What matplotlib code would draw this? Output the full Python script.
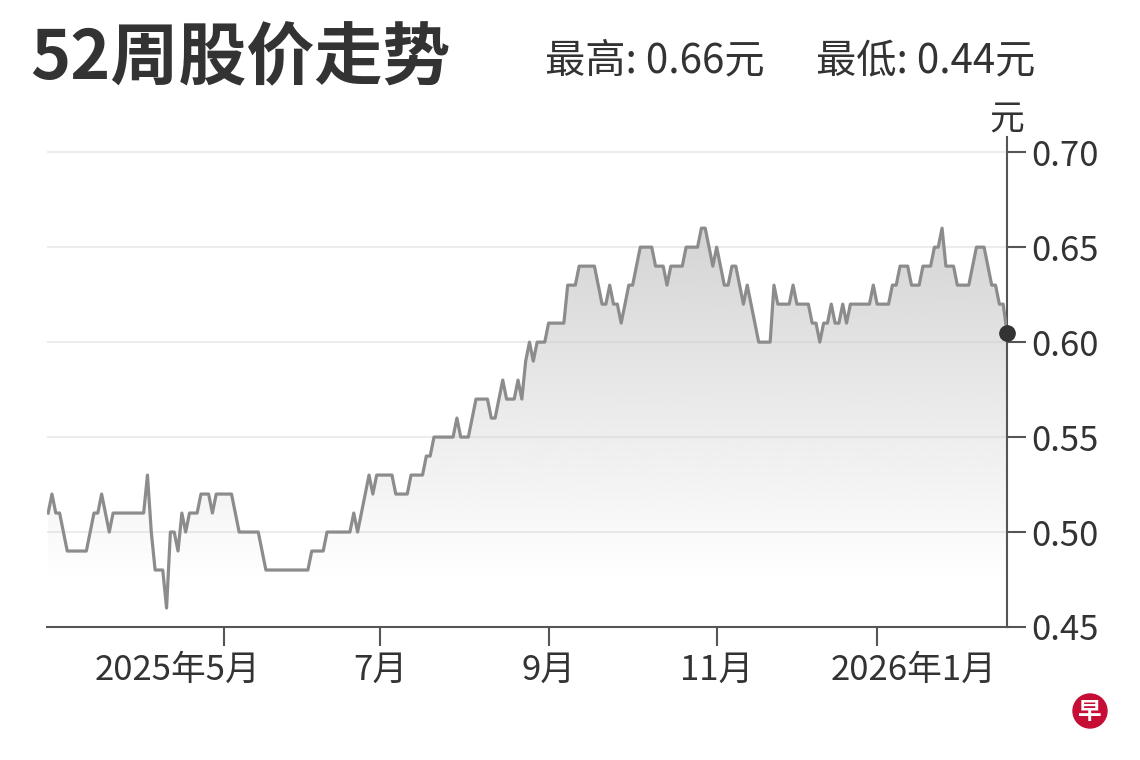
import numpy as np
import pandas as pd
import matplotlib
matplotlib.use("Agg")
import matplotlib.pyplot as plt
from matplotlib.patches import Ellipse

plt.rcParams['font.family'] = ['Noto Sans CJK SC', 'DejaVu Sans']

# 新交所交易日 (去掉公共假期)
holidays = ["2025-03-31", "2025-04-18", "2025-05-01", "2025-05-12", "2025-10-20",
            "2025-12-25", "2026-01-01", "2026-02-17", "2026-02-18"]
dates = pd.bdate_range("2025-02-24", "2026-02-23")
dates = dates[~dates.isin(pd.to_datetime(holidays))]

# 每日收盘价 (元)
close = [
    0.51, 0.52, 0.51, 0.51, 0.50, 0.49, 0.49, 0.49, 0.49,
    0.49, 0.49, 0.50, 0.51, 0.51, 0.52, 0.51, 0.50, 0.51, 0.51,
    0.51, 0.51, 0.51, 0.51, 0.51, 0.51, 0.51, 0.53, 0.50, 0.48,
    0.48, 0.48, 0.46, 0.50, 0.50, 0.49, 0.51, 0.50, 0.51, 0.51,
    0.51, 0.52, 0.52, 0.52, 0.51, 0.52, 0.52, 0.52, 0.52,
    0.52, 0.51, 0.50, 0.50, 0.50, 0.50, 0.50, 0.50, 0.49, 0.48,
    0.48, 0.48, 0.48, 0.48, 0.48, 0.48, 0.48, 0.48, 0.48, 0.48,
    0.48, 0.49, 0.49, 0.49, 0.49, 0.50, 0.50, 0.50, 0.50, 0.50,
    0.50, 0.50, 0.51, 0.50, 0.51, 0.52, 0.53, 0.52, 0.53,
    0.53, 0.53, 0.53, 0.53, 0.52, 0.52, 0.52, 0.52, 0.53, 0.53,
    0.53, 0.53, 0.54, 0.54, 0.55, 0.55, 0.55, 0.55, 0.55, 0.55,
    0.56, 0.55, 0.55, 0.55, 0.56, 0.57, 0.57, 0.57, 0.57, 0.56,
    0.56, 0.57, 0.58, 0.57, 0.57, 0.57, 0.58, 0.57, 0.59,
    0.60, 0.59, 0.60, 0.60, 0.60, 0.61, 0.61, 0.61, 0.61, 0.61,
    0.63, 0.63, 0.63, 0.64, 0.64, 0.64, 0.64, 0.64, 0.63, 0.62,
    0.62, 0.63, 0.62, 0.62, 0.61, 0.62, 0.63, 0.63, 0.64, 0.65,
    0.65, 0.65, 0.65, 0.64, 0.64, 0.64, 0.63, 0.64, 0.64,
    0.64, 0.64, 0.65, 0.65, 0.65, 0.65, 0.66, 0.66, 0.65, 0.64,
    0.65, 0.64, 0.63, 0.63, 0.64, 0.64, 0.63, 0.62, 0.63, 0.62,
    0.61, 0.60, 0.60, 0.60, 0.60, 0.63, 0.62, 0.62, 0.62, 0.62,
    0.63, 0.62, 0.62, 0.62, 0.62, 0.61, 0.61, 0.60, 0.61,
    0.61, 0.62, 0.61, 0.61, 0.62, 0.61, 0.62, 0.62, 0.62, 0.62,
    0.62, 0.62, 0.63, 0.62, 0.62, 0.62, 0.62, 0.63, 0.63, 0.64,
    0.64, 0.64, 0.63, 0.63, 0.63, 0.64, 0.64, 0.64, 0.65, 0.65,
    0.66, 0.64, 0.64, 0.64, 0.63, 0.63, 0.63, 0.63, 0.64,
    0.65, 0.65, 0.65, 0.64, 0.63, 0.63, 0.62, 0.62, 0.605,
]

yticks = [0.45, 0.50, 0.55, 0.60, 0.65, 0.70]
month_starts = pd.to_datetime(["2025-05-01", "2025-07-01", "2025-09-01",
                               "2025-11-01", "2026-01-01"])
month_labels = ["2025年5月", "7月", "9月", "11月", "2026年1月"]

title = "52周股价走势"
high_txt = "最高: 0.66元"
low_txt = "最低: 0.44元"

W, H = 1140, 760
fig = plt.figure(figsize=(W / 100, H / 100), dpi=100)
ax = fig.add_axes([47 / W, 133 / H, 960 / W, 490 / H])

x = np.arange(len(dates))
y = np.array(close)

ax.set_xlim(-0.3, x[-1])
ax.set_ylim(0.45, 0.708)

# 渐变填充
poly = ax.fill_between(x, y, 0.45, color='none', lw=0)
g = np.linspace(0, 1, 256)
g = np.clip((g - 0.12) / 0.88, 0, 1)
rgba = np.zeros((256, 1, 4))
rgba[..., :3] = 0.80
rgba[:, 0, 3] = g * 0.85
img = ax.imshow(rgba, extent=[x[0], x[-1], 0.45, 0.665], origin='lower',
                aspect='auto', zorder=1)
img.set_clip_path(poly.get_paths()[0], transform=ax.transData)

for t in yticks[1:]:
    ax.axhline(t, color='#ececec', lw=1.5, zorder=0.5)

ax.plot(x, y, color='#8c8c8c', lw=2.3, zorder=3, solid_joinstyle='round')
ax.plot(x[-1], y[-1], 'o', color='#333333', ms=11, zorder=4, clip_on=False)

for s in ['top', 'left']:
    ax.spines[s].set_visible(False)
for s in ['right', 'bottom']:
    ax.spines[s].set_color('#555555')
    ax.spines[s].set_linewidth(1.5)

ax.yaxis.tick_right()
ax.set_yticks(yticks)
ax.set_yticklabels([f"{v:.2f}" for v in yticks])
ax.tick_params(axis='both', length=13.5, width=1.5, color='#555555',
               labelsize=25, labelcolor='#333333')
ax.tick_params(axis='y', pad=4)

# 月份刻度: 每月第一个交易日
tick_pos = np.searchsorted(dates.values, month_starts.values)
ax.set_xticks(tick_pos)
ax.set_xticklabels([])
label_shift = [-46, 0, 0, 0, 36]
for p, lab, dx in zip(tick_pos, month_labels, label_shift):
    ax.annotate(lab, xy=(p, 0), xycoords=ax.get_xaxis_transform(),
                xytext=(dx, -26), textcoords='offset pixels',
                ha='center', va='top', fontsize=25, color='#333333')

fig.text(30 / W, 1 - 60 / H, title, fontsize=49, fontweight='bold',
         color='#333333', va='center')
fig.text(545 / W, 1 - 61 / H, high_txt, fontsize=29, color='#333333', va='center')
fig.text(816 / W, 1 - 61 / H, low_txt, fontsize=29, color='#333333', va='center')
fig.text(1007 / W, 1 - 120 / H, "元", fontsize=25, color='#333333',
         ha='center', va='center')

# 早报标志
fig.patches.append(Ellipse((1090 / W, 1 - 711 / H), 34 / W, 34 / H,
                           color='#c50d35', transform=fig.transFigure, figure=fig))
fig.text(1090 / W, 1 - 712 / H, "早", fontsize=17, fontweight='bold',
         color='white', ha='center', va='center')

fig.savefig("out.png", dpi=100)
